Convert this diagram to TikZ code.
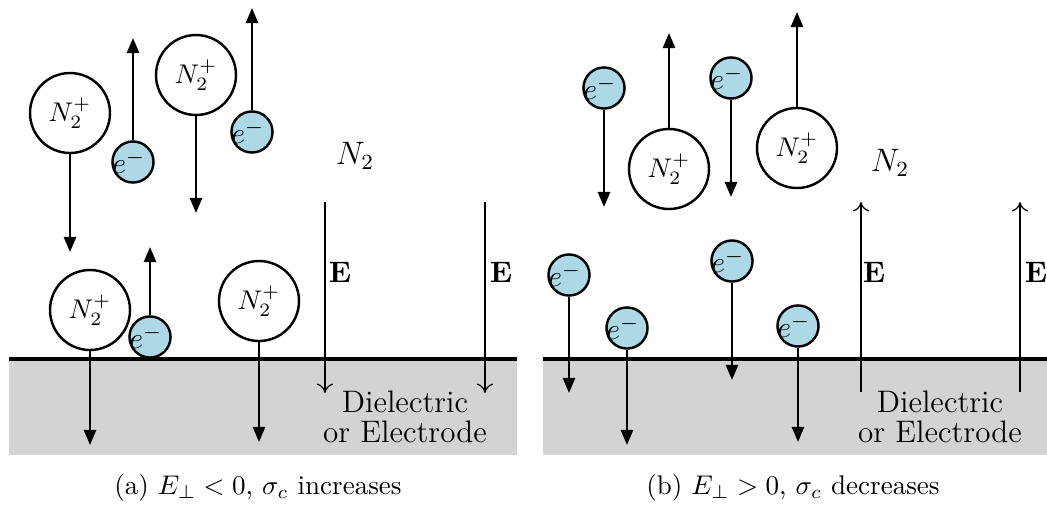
\documentclass[tikz,border=0pt]{standalone}
\usetikzlibrary{arrows.meta}
\definecolor{dielgray}{RGB}{211,211,211}
\definecolor{elecblue}{RGB}{173,216,230}
\begin{document}
\begin{tikzpicture}[x=0.37pt,y=-0.37pt,
  ion/.style={circle,draw,line width=0.9pt,minimum size=29.6pt,inner sep=0pt,font=\fontsize{10}{12}\selectfont},
  elec/.style={circle,draw,fill=elecblue,line width=0.9pt,minimum size=15.2pt,inner sep=0pt,font=\fontsize{11}{13}\selectfont},
  mot/.style={line width=0.9pt,-{Triangle[length=5.6pt,width=4.5pt]}},
  field/.style={line width=0.45pt,-{Computer Modern Rightarrow[length=3.5pt,width=6pt]}},
  lbl/.style={inner sep=0pt,font=\fontsize{11.5}{14}\selectfont},
  elbl/.style={inner sep=0pt,font=\fontsize{11}{13}\selectfont},
  capt/.style={inner sep=0pt,anchor=base,font=\fontsize{10}{12}\selectfont},
  surf/.style={line width=1.4pt}
]
\path[use as bounding box] (0,0) rectangle (1047,506);
\newcommand{\elab}{\makebox[0pt]{$e^-$\hspace{3pt}}}
% ---------------- panel (a)
\fill[dielgray] (9,359) rectangle (517,455);
\coordinate (SaL) at (9,359);
\coordinate (SaR) at (517,359);
\draw[surf] (SaL) -- (SaR);
\node[ion] (A1) at (70,113) {$N_2^+$};
\node[elec] (A2) at (133,162) {\elab};
\node[ion] (A3) at (196,75) {$N_2^+$};
\node[elec] (A4) at (252,132) {\elab};
\node[ion] (A5) at (90,310) {$N_2^+$};
\node[elec] (A6) at (150,337) {\elab};
\node[ion] (A7) at (259,301) {$N_2^+$};
\coordinate (A1t) at (70,252);
\coordinate (A2t) at (133,38);
\coordinate (A3t) at (196,213);
\coordinate (A4t) at (252,8);
\coordinate (A5t) at (90,445);
\coordinate (A6t) at (150,247);
\coordinate (A7t) at (259,442);
\draw[mot] (A1) -- (A1t);
\draw[mot] (A2) -- (A2t);
\draw[mot] (A3) -- (A3t);
\draw[mot] (A4) -- (A4t);
\draw[mot] (A5) -- (A5t);
\draw[mot] (A6) -- (A6t);
\draw[mot] (A7) -- (A7t);
\node[lbl] (Na) at (355,156) {$N_2$};
\coordinate (Ea1s) at (325,202);
\coordinate (Ea1e) at (325,393);
\coordinate (Ea2s) at (485,202);
\coordinate (Ea2e) at (485,393);
\draw[field] (Ea1s) -- (Ea1e);
\draw[field] (Ea2s) -- (Ea2e);
\node[elbl] (Ea1l) at (340,272) {$\mathbf{E}$};
\node[elbl] (Ea2l) at (501,272) {$\mathbf{E}$};
\node[lbl,anchor=base] (Da1) at (405,412) {Dielectric};
\node[lbl,anchor=base] (Da2) at (405,442) {or Electrode};
\node[capt] (Ca) at (258,494) {(a) $E_\perp<0$, $\sigma_c$ increases};
% ---------------- panel (b)
\fill[dielgray] (543,359) rectangle (1047,455);
\coordinate (SbL) at (543,359);
\coordinate (SbR) at (1047,359);
\draw[surf] (SbL) -- (SbR);
\node[elec] (B1) at (604,88) {\elab};
\node[ion] (B2) at (669,169) {$N_2^+$};
\node[elec] (B3) at (731,78) {\elab};
\node[ion] (B4) at (797,148) {$N_2^+$};
\node[elec] (B5) at (569,275) {\elab};
\node[elec] (B6) at (627,328) {\elab};
\node[elec] (B7) at (732,261) {\elab};
\node[elec] (B8) at (798,326) {\elab};
\coordinate (B1t) at (604,207);
\coordinate (B2t) at (669,33);
\coordinate (B3t) at (731,197);
\coordinate (B4t) at (797,12);
\coordinate (B5t) at (569,393);
\coordinate (B6t) at (627,445);
\coordinate (B7t) at (732,380);
\coordinate (B8t) at (798,442);
\draw[mot] (B1) -- (B1t);
\draw[mot] (B2) -- (B2t);
\draw[mot] (B3) -- (B3t);
\draw[mot] (B4) -- (B4t);
\draw[mot] (B5) -- (B5t);
\draw[mot] (B6) -- (B6t);
\draw[mot] (B7) -- (B7t);
\draw[mot] (B8) -- (B8t);
\node[lbl] (Nb) at (890,163) {$N_2$};
\coordinate (Eb1s) at (861,392);
\coordinate (Eb1e) at (861,202);
\coordinate (Eb2s) at (1020,392);
\coordinate (Eb2e) at (1020,202);
\draw[field] (Eb1s) -- (Eb1e);
\draw[field] (Eb2s) -- (Eb2e);
\node[elbl] (Eb1l) at (874,272) {$\mathbf{E}$};
\node[elbl] (Eb2l) at (1036,272) {$\mathbf{E}$};
\node[lbl,anchor=base] (Db1) at (940,412) {Dielectric};
\node[lbl,anchor=base] (Db2) at (940,442) {or Electrode};
\node[capt] (Cb) at (793,494) {(b) $E_\perp>0$, $\sigma_c$ decreases};
\end{tikzpicture}
\end{document}
